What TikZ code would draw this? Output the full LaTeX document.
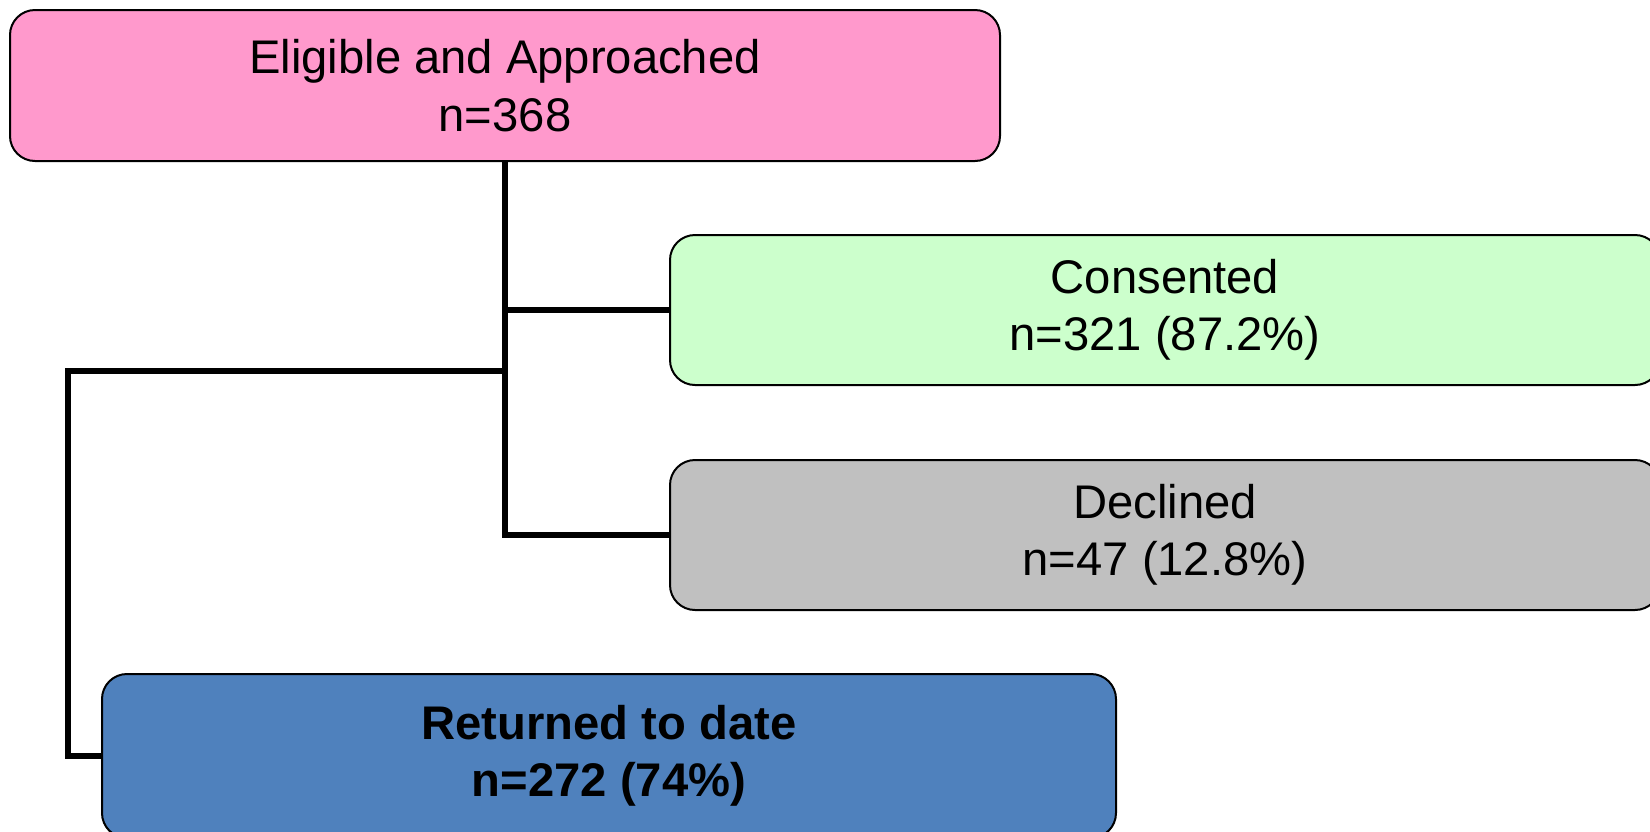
\documentclass[tikz,border=0pt]{standalone}
\usepackage{fontspec}
\setmainfont{Liberation Sans}
\definecolor{elighue}{HTML}{FF99CC}
\definecolor{conshue}{HTML}{CCFFCC}
\definecolor{declhue}{HTML}{C0C0C0}
\definecolor{rethue}{HTML}{4F81BD}
\begin{document}
\begin{tikzpicture}[x=0.5pt, y=-0.5pt,
  flowbox/.style={draw=black, line width=1pt, rounded corners=12.5pt, align=center, inner sep=2pt,
    font=\fontsize{23.6}{28.75}\selectfont, execute at begin node={\rule{0pt}{23pt}}},
  conn/.style={black, line width=3pt}]
\useasboundingbox[fill=white] (0,0) rectangle (1650,831);
\node[flowbox, fill=elighue, minimum width=495pt, minimum height=75.5pt] (elig) at (505,85.5) {Eligible and Approached\\n=368};
\node[flowbox, fill=conshue, minimum width=495pt, minimum height=75pt] (consented) at (1165,310) {Consented\\n=321 (87.2\%)};
\node[flowbox, fill=declhue, minimum width=495pt, minimum height=75pt] (declined) at (1165,535) {Declined\\n=47 (12.8\%)};
\node[flowbox, fill=rethue, minimum width=507pt, minimum height=82pt, font=\fontsize{23.6}{28.75}\selectfont\bfseries] (returned) at (609,756) {Returned to date\\n=272 (74\%)};
\coordinate (split) at (505,371);
\coordinate (bend) at (68,371);
\draw[conn] (elig.south) |- (declined.west);
\draw[conn] (elig.south |- consented.west) -- (consented.west);
\draw[conn] (split) -- (bend) |- (returned.west);
\end{tikzpicture}
\end{document}
